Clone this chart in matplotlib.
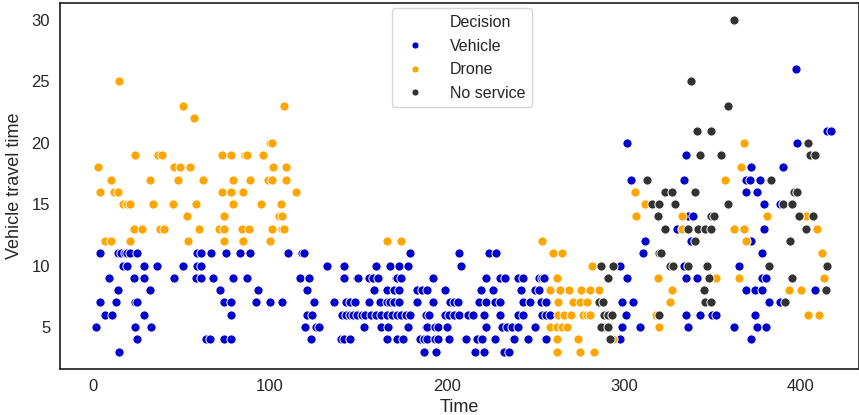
import matplotlib
matplotlib.use("Agg")
import matplotlib.pyplot as plt
from matplotlib.lines import Line2D
import seaborn as sns

# (time, vehicle travel time), one list per decision
vehicle = [
    (4, 11), (14, 11), (16, 11), (18, 11), (19, 11), (21, 11), (25, 11),
    (17, 10), (19, 10), (29, 10), (36, 10), (51, 10),
    (9, 9), (23, 9), (29, 9), (46, 9), (14, 8), (32, 8),
    (4, 7), (13, 7), (24, 7), (25, 7), (7, 6), (11, 6), (29, 6),
    (2, 5), (24, 5), (33, 5), (25, 4), (15, 3),
    (59, 11), (61, 11), (67, 11), (75, 11), (83, 11), (89, 11),
    (59, 10), (61, 10), (58, 9), (61, 9), (68, 9), (79, 9), (87, 9),
    (72, 8), (93, 8), (74, 7), (78, 7), (92, 7), (100, 7), (78, 6),
    (64, 4), (66, 4), (74, 4), (78, 4),
    (110, 11), (118, 11), (119, 11), (132, 10), (142, 10),
    (117, 9), (122, 9), (142, 9), (149, 9), (150, 9), (156, 9), (121, 8),
    (107, 7), (125, 7), (136, 7), (143, 7), (145, 7), (148, 7), (156, 7),
    (121, 6), (124, 6), (141, 6), (143, 6), (145, 6), (147, 6), (149, 6), (152, 6),
    (120, 5), (126, 5), (128, 5), (153, 5),
    (123, 4), (140, 4), (142, 4), (145, 4),
    (179, 11), (207, 11), (160, 10), (168, 10), (173, 10), (178, 10), (208, 10),
    (158, 9), (161, 9), (171, 9), (172, 9), (174, 9), (192, 9),
    (159, 8), (166, 8), (170, 8), (173, 8), (183, 8), (186, 8), (189, 8), (199, 8),
    (162, 7), (166, 7), (168, 7), (170, 7), (173, 7), (183, 7), (192, 7),
    (202, 7), (204, 7), (206, 7),
    (154, 6), (157, 6), (160, 6), (163, 6), (166, 6), (169, 6), (172, 6), (174, 6),
    (177, 6), (179, 6), (188, 6), (190, 6), (199, 6), (201, 6), (204, 6), (207, 6),
    (163, 5), (167, 5), (178, 5), (188, 5), (189, 5), (193, 5), (195, 5), (200, 5),
    (166, 4), (172, 4), (175, 4), (185, 4), (187, 4), (189, 4), (193, 4), (195, 4),
    (201, 4), (211, 4), (187, 3), (194, 3),
    (224, 11), (228, 11),
    (222, 9), (230, 9), (233, 9), (240, 9), (243, 9), (252, 9), (254, 9), (255, 9),
    (219, 8), (226, 8), (242, 8), (250, 8), (252, 8),
    (218, 7), (222, 7), (227, 7), (230, 7), (243, 7), (247, 7), (253, 7), (256, 7),
    (212, 6), (215, 6), (221, 6), (230, 6), (240, 6), (243, 6), (254, 6), (256, 6), (258, 6),
    (222, 5), (231, 5), (234, 5), (237, 5), (240, 5), (250, 5),
    (217, 4), (220, 4), (227, 4), (238, 4), (246, 4), (256, 4),
    (216, 3), (221, 3), (232, 3), (235, 3),
    (304, 17), (312, 12), (311, 11), (298, 10), (302, 9), (299, 7), (305, 7),
    (301, 6), (289, 5), (299, 5), (309, 5), (298, 4),
    (302, 20), (335, 19), (334, 17), (336, 14), (339, 14), (330, 13), (338, 12),
    (334, 10), (335, 9), (341, 9), (335, 6), (343, 6), (350, 6), (352, 6), (336, 5),
    (397, 26), (398, 20), (372, 18), (390, 18), (369, 17), (371, 17), (377, 17),
    (369, 16), (375, 16), (379, 15), (388, 15), (379, 13), (372, 12), (378, 11),
    (365, 10), (378, 9), (380, 9), (369, 8), (374, 8), (378, 8), (408, 8),
    (382, 7), (388, 7), (374, 6), (362, 5), (375, 5), (380, 5), (372, 4),
    (415, 21), (417, 21),
]

drone = [
    (15, 25), (24, 19), (36, 19), (37, 19), (39, 19), (3, 18), (46, 18), (49, 18),
    (10, 17), (32, 17), (48, 17), (4, 16), (12, 16), (14, 16),
    (17, 15), (19, 15), (21, 15), (34, 15), (45, 15),
    (23, 13), (28, 13), (38, 13), (40, 13), (7, 12), (10, 12), (21, 12),
    (51, 23), (57, 22), (100, 20), (101, 20),
    (73, 19), (78, 19), (86, 19), (87, 19), (96, 19),
    (55, 18), (102, 18), (109, 18),
    (62, 17), (79, 17), (89, 17), (99, 17), (101, 17), (109, 17),
    (73, 16), (78, 16), (84, 16), (85, 16), (115, 16),
    (58, 15), (79, 15), (95, 15), (106, 15),
    (53, 14), (74, 14), (105, 14), (107, 14),
    (60, 13), (71, 13), (74, 13), (84, 13), (88, 13), (101, 13), (107, 13), (108, 13),
    (54, 12), (74, 12), (84, 12), (85, 12), (100, 12), (108, 23),
    (166, 12), (174, 12),
    (254, 12), (260, 11), (265, 11), (282, 10), (262, 9),
    (258, 8), (264, 8), (269, 8), (276, 8), (281, 8), (286, 8),
    (263, 7), (271, 7), (275, 7), (279, 7),
    (263, 6), (266, 6), (270, 6), (277, 6), (279, 6), (281, 6),
    (258, 5), (262, 5), (265, 5), (268, 5),
    (262, 4), (274, 4), (294, 4), (262, 3), (275, 3), (283, 3),
    (306, 16), (312, 15), (307, 14),
    (333, 14), (333, 13), (319, 9), (352, 9), (327, 8), (326, 7), (318, 6), (320, 5),
    (368, 20), (366, 18), (357, 17), (381, 14), (403, 14), (362, 13), (368, 13),
    (409, 13), (369, 12), (412, 11), (365, 9), (413, 9), (393, 8), (400, 8),
    (404, 6), (410, 6),
]

no_service = [
    (313, 17), (316, 15), (287, 10), (294, 10), (291, 9), (286, 7), (288, 7),
    (289, 6), (291, 6), (293, 6), (287, 5), (291, 5), (292, 4),
    (338, 25), (341, 21), (349, 21), (343, 19), (355, 19),
    (323, 16), (327, 16), (340, 16), (320, 15), (329, 15),
    (319, 14), (349, 14), (351, 14),
    (323, 13), (336, 13), (342, 13), (346, 13), (349, 13), (340, 12),
    (320, 11), (321, 11), (326, 10), (328, 10), (336, 10), (347, 10),
    (348, 9), (345, 8), (346, 7), (349, 7), (320, 6),
    (362, 30), (359, 23), (404, 20), (405, 19), (408, 19), (383, 17),
    (396, 16), (398, 16), (359, 15), (390, 15), (395, 15), (399, 14), (407, 14),
    (403, 13), (394, 12), (382, 10), (415, 10), (395, 9), (414, 8), (391, 7),
]

decisions = ["Vehicle", "Drone", "No service"]
colors = ["#0000cd", "#ffa500", "#333333"]

sns.set_style("white")
plt.rcParams["font.family"] = ["Liberation Sans", "DejaVu Sans"]

fig = plt.figure(figsize=(8.59, 4.15), dpi=100)
ax = fig.add_axes([0.0698, 0.111, 0.9302, 0.882])

for pts, name, col in zip([vehicle, drone, no_service], decisions, colors):
    xs = [p[0] for p in pts]
    ys = [p[1] for p in pts]
    ax.scatter(xs, ys, s=44, color=col, edgecolor="white", linewidth=0.7, label=name)

ax.set_xlim(-18.6, 432.8)
ax.set_ylim(1.58, 31.4)
ax.set_xticks([0, 100, 200, 300, 400])
ax.set_yticks([5, 10, 15, 20, 25, 30])
ax.tick_params(labelsize=12, colors=".15")
ax.set_xlabel("Time", fontsize=13, color=".15", labelpad=4)
ax.set_ylabel("Vehicle travel time", fontsize=13, color=".15", labelpad=6)
for sp in ax.spines.values():
    sp.set_color(".15")
    sp.set_linewidth(1.25)

handles = [Line2D([], [], linestyle="", marker="")]
for col in colors:
    handles.append(Line2D([], [], linestyle="", marker="o", markersize=5,
                          color=col, markeredgecolor="white", markeredgewidth=0.5))
leg = ax.legend(handles, ["Decision"] + decisions, loc="upper center",
                bbox_to_anchor=(0.503, 1.007), fontsize=11.5, handletextpad=1.2,
                borderpad=0.4, labelspacing=0.55, frameon=True)
leg.get_frame().set_edgecolor("0.8")

fig.savefig("out.png", dpi=100)
